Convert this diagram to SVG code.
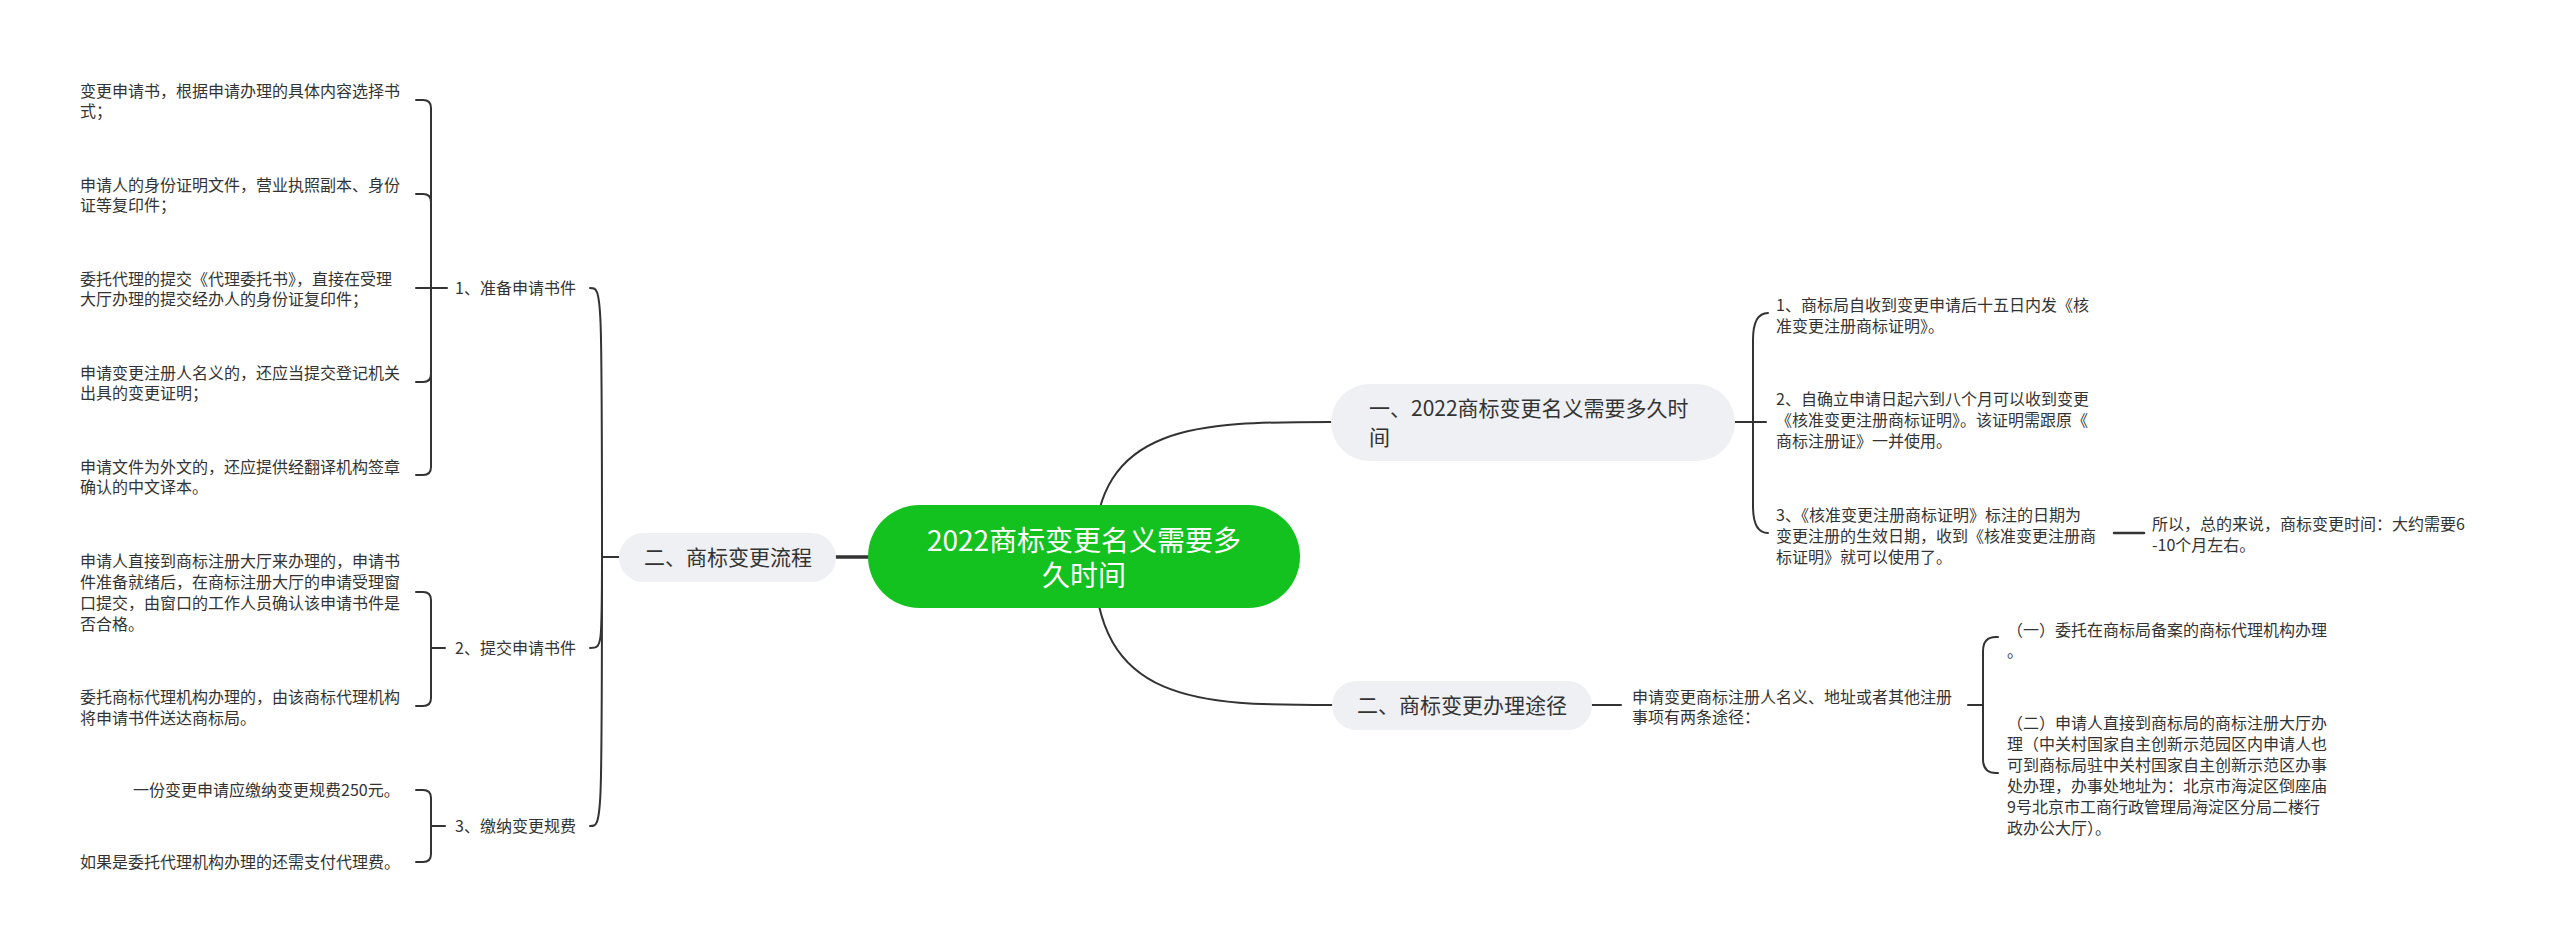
<svg xmlns="http://www.w3.org/2000/svg" width="2560" height="952" viewBox="0 0 2560 952">
<defs>
<style>
.bg{fill:#ffffff}
.ln{fill:none;stroke:#333333;stroke-width:2;stroke-linecap:round;stroke-linejoin:round}
.thick{stroke-width:3.5}
.leaf{font-family:"Noto Sans CJK SC","Noto Sans",sans-serif;font-size:16px;fill:#333333}
.sub{font-family:"Noto Sans CJK SC","Noto Sans",sans-serif;font-size:21px;fill:#333333}
.main{font-family:"Noto Sans CJK SC","Noto Sans",sans-serif;font-size:28px;fill:#ffffff}
.nodebox{fill:#eef0f4}
.rootbox{fill:#13c11f}
</style>
</defs>
<rect class="bg" x="0" y="0" width="2560" height="952"/>

<g id="connectors">
  <!-- root to right branches -->
  <path class="ln" d="M1094 556 C1094 422 1200 422 1331 422"/>
  <path class="ln" d="M1094 556 C1094 705 1200 705 1332 705"/>
  <!-- root to left branch -->
  <path class="ln thick" d="M836 557 L868 557"/>
  <!-- left branch to its children -->
  <path class="ln" d="M619 557 L602 557"/>
  <path class="ln" d="M602 557 C602 288 602 288 590 288"/>
  <path class="ln" d="M602 557 C602 648 602 648 590 648"/>
  <path class="ln" d="M602 557 C602 826 602 826 590 826"/>
  <!-- brace A: 1、准备申请书件 -->
  <path class="ln" d="M447 288 L416 288"/>
  <path class="ln" d="M431 288 L431 108 Q431 100 423 100 L416 100"/>
  <path class="ln" d="M431 288 L431 202 Q431 194 423 194 L416 194"/>
  <path class="ln" d="M431 288 L431 374 Q431 382 423 382 L416 382"/>
  <path class="ln" d="M431 288 L431 467 Q431 475 423 475 L416 475"/>
  <!-- brace B: 2、提交申请书件 -->
  <path class="ln" d="M445 648 L431 648"/>
  <path class="ln" d="M431 648 L431 600 Q431 592 423 592 L416 592"/>
  <path class="ln" d="M431 648 L431 698 Q431 706 423 706 L416 706"/>
  <!-- brace C: 3、缴纳变更规费 -->
  <path class="ln" d="M445 826 L431 826"/>
  <path class="ln" d="M431 826 L431 798 Q431 790 423 790 L416 790"/>
  <path class="ln" d="M431 826 L431 854 Q431 862 423 862 L416 862"/>
  <!-- brace right 一 -->
  <path class="ln" d="M1735 422 L1766 422"/>
  <path class="ln" d="M1753 422 L1753 340 Q1753 313 1768 313"/>
  <path class="ln" d="M1753 422 L1753 506 Q1753 533 1768 533"/>
  <path class="ln" d="M2114 533 L2144 533" style="stroke-width:2.5"/>
  <!-- right 二 -->
  <path class="ln" d="M1592 705 L1621 705"/>
  <path class="ln" d="M1968 705 L1983 705"/>
  <path class="ln" d="M1983 705 L1983 651 Q1983 637 1996 637 L1998 637"/>
  <path class="ln" d="M1983 705 L1983 759 Q1983 773 1996 773 L1998 773"/>
</g>

<g id="root">
  <rect class="rootbox" x="868" y="505" width="432" height="103" rx="51.5"/>
  <text class="main" text-anchor="middle"><tspan x="1084" y="551">2022商标变更名义需要多</tspan><tspan x="1084" y="586">久时间</tspan></text>
</g>

<g id="n-left">
  <rect class="nodebox" x="619" y="533" width="217" height="49" rx="24.5"/>
  <text class="sub" x="728" y="564.5" text-anchor="middle">二、商标变更流程</text>
</g>

<g id="n-prep">
  <text class="leaf" x="455" y="294">1、准备申请书件</text>
</g>
<g id="n-submit">
  <text class="leaf" x="455" y="654">2、提交申请书件</text>
</g>
<g id="n-fee">
  <text class="leaf" x="455" y="832">3、缴纳变更规费</text>
</g>

<g id="leaf-a1"><text class="leaf"><tspan x="80" y="97">变更申请书，根据申请办理的具体内容选择书</tspan><tspan x="80" y="117">式；</tspan></text></g>
<g id="leaf-a2"><text class="leaf"><tspan x="80" y="191">申请人的身份证明文件，营业执照副本、身份</tspan><tspan x="80" y="211">证等复印件；</tspan></text></g>
<g id="leaf-a3"><text class="leaf"><tspan x="80" y="285">委托代理的提交《代理委托书》，直接在受理</tspan><tspan x="80" y="305">大厅办理的提交经办人的身份证复印件；</tspan></text></g>
<g id="leaf-a4"><text class="leaf"><tspan x="80" y="379">申请变更注册人名义的，还应当提交登记机关</tspan><tspan x="80" y="399">出具的变更证明；</tspan></text></g>
<g id="leaf-a5"><text class="leaf"><tspan x="80" y="473">申请文件为外文的，还应提供经翻译机构签章</tspan><tspan x="80" y="493">确认的中文译本。</tspan></text></g>

<g id="leaf-b1"><text class="leaf"><tspan x="80" y="566.5">申请人直接到商标注册大厅来办理的，申请书</tspan><tspan x="80" y="587.5">件准备就绪后，在商标注册大厅的申请受理窗</tspan><tspan x="80" y="608.5">口提交，由窗口的工作人员确认该申请书件是</tspan><tspan x="80" y="629.5">否合格。</tspan></text></g>
<g id="leaf-b2"><text class="leaf"><tspan x="80" y="703">委托商标代理机构办理的，由该商标代理机构</tspan><tspan x="80" y="724">将申请书件送达商标局。</tspan></text></g>

<g id="leaf-c1"><text class="leaf" x="133" y="796">一份变更申请应缴纳变更规费250元。</text></g>
<g id="leaf-c2"><text class="leaf" x="80" y="868">如果是委托代理机构办理的还需支付代理费。</text></g>

<g id="n-time">
  <rect class="nodebox" x="1331" y="384" width="404" height="77" rx="38.5"/>
  <text class="sub"><tspan x="1369" y="415.5">一、2022商标变更名义需要多久时</tspan><tspan x="1369" y="444.5">间</tspan></text>
</g>

<g id="leaf-r1"><text class="leaf"><tspan x="1776" y="310.5">1、商标局自收到变更申请后十五日内发《核</tspan><tspan x="1776" y="331.5">准变更注册商标证明》。</tspan></text></g>
<g id="leaf-r2"><text class="leaf"><tspan x="1776" y="405">2、自确立申请日起六到八个月可以收到变更</tspan><tspan x="1776" y="426">《核准变更注册商标证明》。该证明需跟原《</tspan><tspan x="1776" y="447">商标注册证》一并使用。</tspan></text></g>
<g id="leaf-r3"><text class="leaf"><tspan x="1776" y="521">3、《核准变更注册商标证明》标注的日期为</tspan><tspan x="1776" y="542">变更注册的生效日期，收到《核准变更注册商</tspan><tspan x="1776" y="563">标证明》就可以使用了。</tspan></text></g>
<g id="leaf-r4"><text class="leaf"><tspan x="2152" y="530">所以，总的来说，商标变更时间：大约需要6</tspan><tspan x="2152" y="551">-10个月左右。</tspan></text></g>

<g id="n-way">
  <rect class="nodebox" x="1332" y="681" width="260" height="49" rx="24.5"/>
  <text class="sub" x="1462" y="712.5" text-anchor="middle">二、商标变更办理途径</text>
</g>
<g id="leaf-w0"><text class="leaf"><tspan x="1632" y="703">申请变更商标注册人名义、地址或者其他注册</tspan><tspan x="1632" y="723">事项有两条途径：</tspan></text></g>
<g id="leaf-w1"><text class="leaf"><tspan x="2007" y="636">（一）委托在商标局备案的商标代理机构办理</tspan><tspan x="2007" y="657">。</tspan></text></g>
<g id="leaf-w2"><text class="leaf"><tspan x="2007" y="729">（二）申请人直接到商标局的商标注册大厅办</tspan><tspan x="2007" y="750">理（中关村国家自主创新示范园区内申请人也</tspan><tspan x="2007" y="771">可到商标局驻中关村国家自主创新示范区办事</tspan><tspan x="2007" y="792">处办理，办事处地址为：北京市海淀区倒座庙</tspan><tspan x="2007" y="813">9号北京市工商行政管理局海淀区分局二楼行</tspan><tspan x="2007" y="834">政办公大厅）。</tspan></text></g>
</svg>
